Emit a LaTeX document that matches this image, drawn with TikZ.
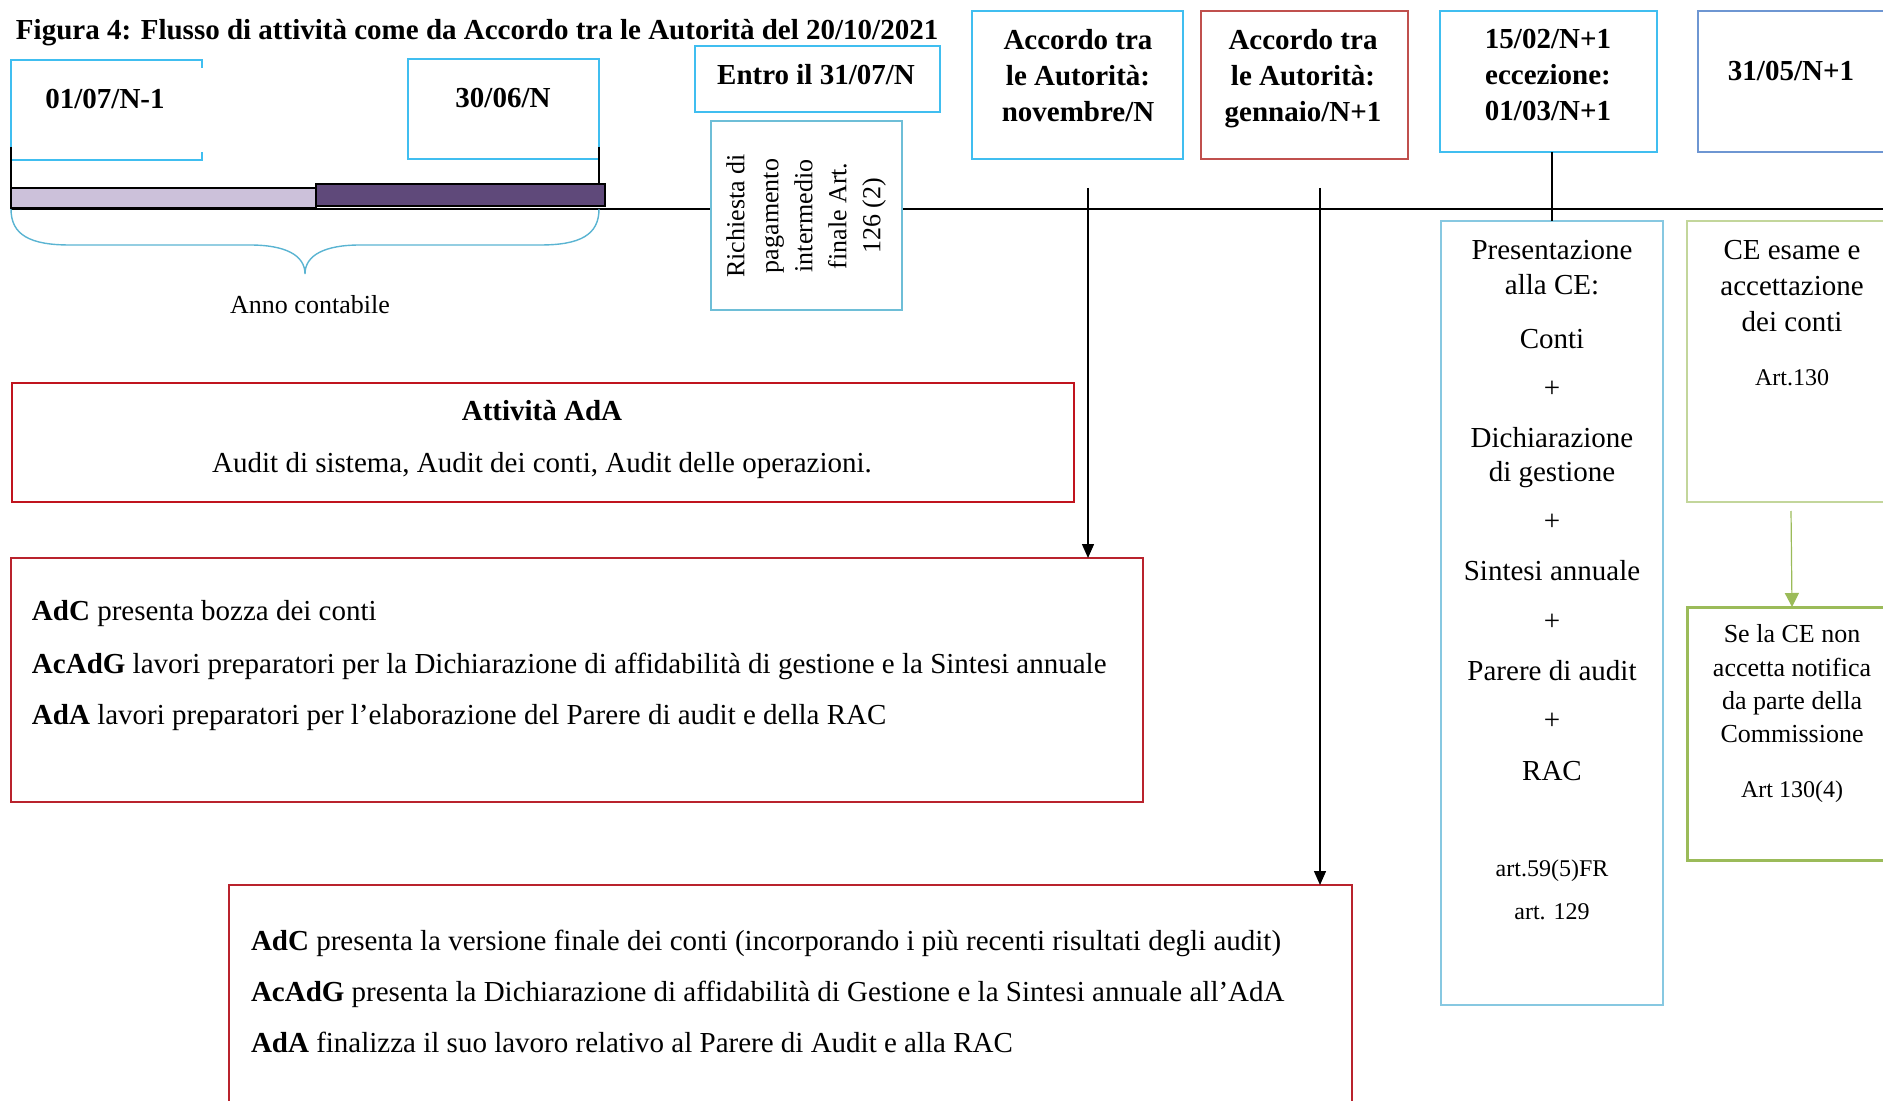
\documentclass[tikz,border=0pt]{standalone}
\usepackage{fontspec}
\setmainfont{Liberation Serif}
\usetikzlibrary{arrows.meta}
\definecolor{cyanb}{RGB}{64,190,240}
\definecolor{ricb}{RGB}{110,190,215}
\definecolor{presb}{RGB}{135,200,225}
\definecolor{redb}{RGB}{192,20,30}
\definecolor{redc}{RGB}{185,35,45}
\definecolor{genb}{RGB}{192,80,77}
\definecolor{blueb}{RGB}{110,150,210}
\definecolor{lgreen}{RGB}{195,214,155}
\definecolor{greenb}{RGB}{155,187,89}
\definecolor{lpurple}{RGB}{204,193,218}
\definecolor{dpurple}{RGB}{95,73,122}
\definecolor{bracec}{RGB}{90,180,210}
\begin{document}
\begin{tikzpicture}[x=0.5pt,y=-0.5pt,
  every node/.style={inner sep=0pt,outer sep=0pt},
  bx/.style={draw,rectangle,anchor=north west,line width=0.75pt,fill=white},
  fb/.style={font=\fontsize{14.5}{18}\selectfont\bfseries,align=center},
  fr/.style={font=\fontsize{14.5}{18}\selectfont,align=center},
  fm/.style={font=\fontsize{13}{16.5}\selectfont,align=center},
  fs/.style={font=\fontsize{12}{15}\selectfont,align=center},
  one/.style={text height=12pt,text depth=2pt},
  arr/.style={-{Triangle[length=7pt,width=6pt]},line width=0.7pt}
]
\useasboundingbox (0,0) rectangle (1883,1101);
\clip (0,0) rectangle (1883,1101);

% timeline
\coordinate (tl0) at (11,209);
\coordinate (tl1) at (1883,209);
\draw[line width=1pt] (tl0) -- (tl1);

% title
\node[fb,one,anchor=west] (title) at (16,30) {Figura 4: Flusso di attività come da Accordo tra le Autorità del 20/10/2021};

% 01/07/N-1
\node[anchor=north west,minimum width=95.5pt,minimum height=50pt] (b0107) at (11,60) {};
\draw[cyanb,line width=0.75pt] ([yshift=-4pt]b0107.north east) -- (b0107.north east) -- (b0107.north west) -- (b0107.south west) -- (b0107.south east) -- ([yshift=4pt]b0107.south east);
\node[fb,one] (t0107) at (105,99) {01/07/N-1};

% 30/06/N
\node[bx,draw=cyanb,minimum width=95.5pt,minimum height=50pt] (b3006) at (408,59) {};
\node[fb,one] (t3006) at (503,98) {30/06/N};

% ticks
\draw[line width=0.8pt] (11,147) -- (11,208);
\draw[line width=0.8pt] (599,147) -- (599,185);

% brace
\draw[bracec,line width=0.7pt] (11,209) .. controls (11,235) and (30,245) .. (70,245) -- (250,245) .. controls (285,245) and (305,255) .. (305,274) .. controls (305,255) and (325,245) .. (360,245) -- (540,245) .. controls (580,245) and (599,235) .. (599,209);
\node[fm,one] (anno) at (310,304) {Anno contabile};

% bars
\node[anchor=north west,draw=black,fill=lpurple,line width=1pt,minimum width=152.5pt,minimum height=10pt] (bar1) at (11,188) {};
\node[anchor=north west,draw=black,fill=dpurple,line width=1pt,minimum width=144.5pt,minimum height=11pt] (bar2) at (316,184) {};

% Entro il
\node[bx,draw=cyanb,minimum width=122.5pt,minimum height=33pt] (bentro) at (695,46) {};
\node[fb,one] (tentro) at (816,75) {Entro il 31/07/N};

% Richiesta
\node[bx,draw=ricb,minimum width=95.5pt,minimum height=94.5pt] (brich) at (711,121) {};
\node[fm,rotate=90,font=\fontsize{13}{17}\selectfont] (tric) at (806,216) {Richiesta di\\pagamento\\intermedio\\finale Art.\\126 (2)};

% Accordo novembre
\node[bx,draw=cyanb,minimum width=105.5pt,minimum height=74pt] (bnov) at (972,11) {};
\node[fb] (tnov) at (1078,76) {Accordo tra\\le Autorità:\\novembre/N};

% Accordo gennaio
\node[bx,draw=genb,minimum width=103.5pt,minimum height=74pt] (bgen) at (1201,11) {};
\node[fb] (tgen) at (1303,79) {Accordo tra\\le Autorità:\\gennaio/N+1};

% 15/02
\node[bx,draw=cyanb,minimum width=108.5pt,minimum height=70.5pt] (b1502) at (1440,11) {};
\node[fb] (t1502) at (1548,75) {15/02/N+1\\eccezione:\\01/03/N+1};

% 31/05
\node[bx,draw=blueb,minimum width=100pt,minimum height=70.5pt] (b3105) at (1698,11) {};
\node[fb,one] (t3105) at (1791,71) {31/05/N+1};

% Presentazione
\node[bx,draw=presb,minimum width=111pt,minimum height=392pt] (bpres) at (1441,221) {};
\draw[line width=0.75pt] (bpres.north) -- (bpres.north |- b1502.south);
\node[fr,one] (p1) at (1552,250) {Presentazione};
\node[fr,one] (p2) at (1552,285) {alla CE:};
\node[fr,one] (p3) at (1552,339) {Conti};
\node[fr,one] (p4) at (1552,387) {+};
\node[fr,one] (p5) at (1552,437) {Dichiarazione};
\node[fr,one] (p6) at (1552,471) {di gestione};
\node[fr,one] (p7) at (1552,520) {+};
\node[fr,one] (p8) at (1552,570) {Sintesi annuale};
\node[fr,one] (p9) at (1552,620) {+};
\node[fr,one] (p10) at (1552,670) {Parere di audit};
\node[fr,one] (p11) at (1552,719) {+};
\node[fr,one] (p12) at (1552,770) {RAC};
\node[fs,one] (p13) at (1552,866) {art.59(5)FR};
\node[fs,one] (p14) at (1552,909) {art. 129};

% CE esame
\node[bx,draw=lgreen,minimum width=105pt,minimum height=140.5pt] (bce) at (1687,221) {};
\node[fr] (tce) at (1792,286) {CE esame e\\accettazione\\dei conti};
\node[fs,one] (tce2) at (1792,376) {Art.130};

% Se la CE
\node[bx,draw=greenb,line width=1.5pt,minimum width=105pt,minimum height=126.5pt] (bse) at (1687,607) {};
\node[fm,font=\fontsize{13}{16.7}\selectfont] (tse) at (1792,684) {Se la CE non\\accetta notifica\\da parte della\\Commissione};
\node[fs,one] (tse2) at (1792,787) {Art 130(4)};
\coordinate (g0) at (1791,511);
\draw[greenb,-{Triangle[length=7pt,width=7pt]},line width=0.6pt] (g0) -- (bse.north);

% Attivita AdA
\node[bx,draw=redb,line width=0.6pt,minimum width=531pt,minimum height=59.5pt] (batt) at (12,383) {};
\node[fb,one] (tatt1) at (542,411) {Attività AdA};
\node[fr,one] (tatt2) at (542,462) {Audit di sistema, Audit dei conti, Audit delle operazioni.};

% AdC box
\node[bx,draw=redc,line width=1.2pt,minimum width=566pt,minimum height=122pt] (badc) at (11,558) {};
\node[fr,one,anchor=west] (l1) at (32,610) {\textbf{AdC} presenta bozza dei conti};
\node[fr,one,anchor=west] (l2) at (32,663) {\textbf{AcAdG} lavori preparatori per la Dichiarazione di affidabilità di gestione e la Sintesi annuale};
\node[fr,one,anchor=west] (l3) at (32,714) {\textbf{AdA} lavori preparatori per l’elaborazione del Parere di audit e della RAC};

% final box
\node[bx,draw=redc,line width=1pt,minimum width=561.5pt,minimum height=150pt] (bfin) at (229,885) {};
\node[fr,one,anchor=west] (f1) at (251,940) {\textbf{AdC} presenta la versione finale dei conti (incorporando i più recenti risultati degli audit)};
\node[fr,one,anchor=west] (f2) at (251,991) {\textbf{AcAdG} presenta la Dichiarazione di affidabilità di Gestione e la Sintesi annuale all’AdA};
\node[fr,one,anchor=west] (f3) at (251,1042) {\textbf{AdA} finalizza il suo lavoro relativo al Parere di Audit e alla RAC};

% arrows
\coordinate (a1) at (1088,188);
\draw[arr] (a1) -- (a1 |- badc.north);
\coordinate (a2) at (1320,188);
\draw[arr] (a2) -- (a2 |- bfin.north);
\end{tikzpicture}
\end{document}
